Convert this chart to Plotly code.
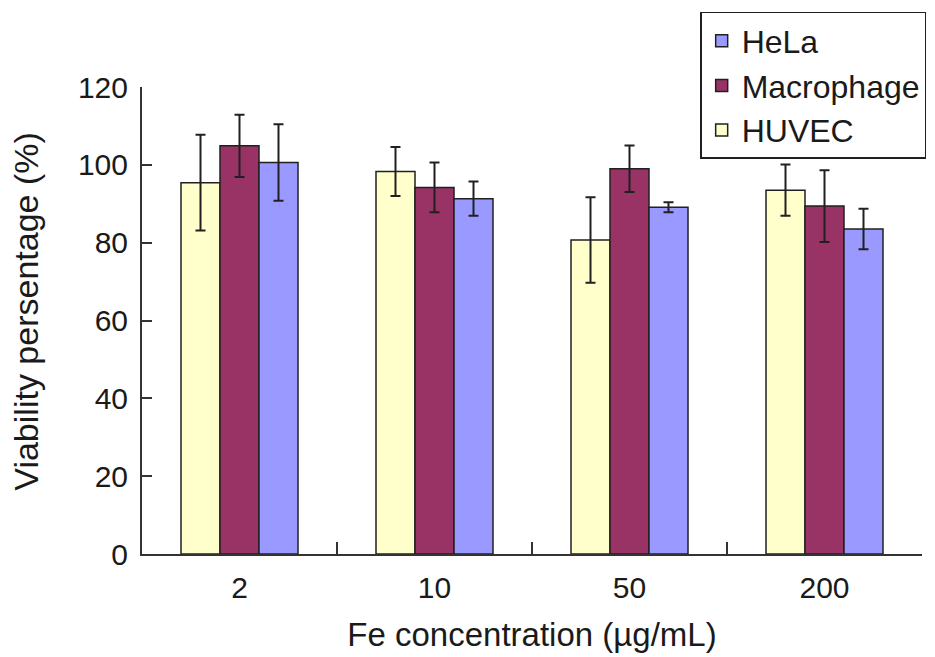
import plotly.graph_objects as go

# Cell viability at each Fe concentration
concentrations = ["2", "10", "50", "200"]
series_names = ["HUVEC", "Macrophage", "HeLa"]
huvec = [95.4, 98.3, 80.7, 93.5]
huvec_err = [12.3, 6.3, 11.0, 6.6]
macrophage = [104.9, 94.2, 99.0, 89.4]
macrophage_err = [8.0, 6.4, 6.0, 9.2]
hela = [100.6, 91.3, 89.1, 83.5]
hela_err = [9.8, 4.4, 1.3, 5.2]
y_ticks = [0, 20, 40, 60, 80, 100, 120]

colors = ["#FFFFCC", "#993366", "#9999FF"]
values = [huvec, macrophage, hela]
errors = [huvec_err, macrophage_err, hela_err]
legend_ranks = [3, 2, 1]  # HeLa listed first in the legend

FONT = "Liberation Sans, Arial, sans-serif"
INK = "#1a1a1a"

fig = go.Figure()
for name, vals, errs, col, rank in zip(series_names, values, errors, colors, legend_ranks):
    fig.add_trace(go.Bar(
        name=name,
        x=concentrations,
        y=vals,
        legendgroup=name,
        legendrank=rank,
        marker=dict(color=col, line=dict(color="#202020", width=1.5)),
        error_y=dict(type="data", array=errs, visible=True,
                     color="#202020", thickness=2, width=5),
    ))

fig.update_layout(
    width=935, height=657,
    margin=dict(l=142, r=9, t=87, b=103),
    paper_bgcolor="white", plot_bgcolor="white",
    barmode="group", bargap=0.4, bargroupgap=0,
    font=dict(family=FONT, color=INK),
    showlegend=True,
    legend=dict(
        x=0.7156, y=1.1606, xanchor="left", yanchor="top",
        traceorder="grouped", tracegroupgap=0,
        font=dict(family=FONT, size=32, color=INK),
        bordercolor="#202020", borderwidth=1.5, bgcolor="white",
    ),
    xaxis=dict(
        type="category", range=[-0.5, 3.5],
        showline=True, linecolor="#333333", linewidth=2,
        ticks="inside", tickson="boundaries", ticklen=12, tickwidth=2,
        tickcolor="#333333", ticklabelstandoff=6,
        tickfont=dict(family=FONT, size=30, color=INK),
        showgrid=False, zeroline=False,
        title=dict(text="Fe concentration (µg/mL)", standoff=20,
                   font=dict(family=FONT, size=33, color=INK)),
    ),
    yaxis=dict(
        range=[0, 120], tickvals=y_ticks,
        showline=True, linecolor="#333333", linewidth=2,
        ticks="inside", ticklen=10, tickwidth=2, tickcolor="#333333",
        ticklabelstandoff=6,
        tickfont=dict(family=FONT, size=30, color=INK),
        showgrid=False, zeroline=False,
    ),
    annotations=[dict(
        text="Viability persentage (%)", textangle=-90,
        xref="paper", yref="paper", x=-0.1480, y=0.518,
        xanchor="center", yanchor="middle", showarrow=False,
        font=dict(family=FONT, size=34, color=INK),
    )],
)

fig.write_html("out.html")
